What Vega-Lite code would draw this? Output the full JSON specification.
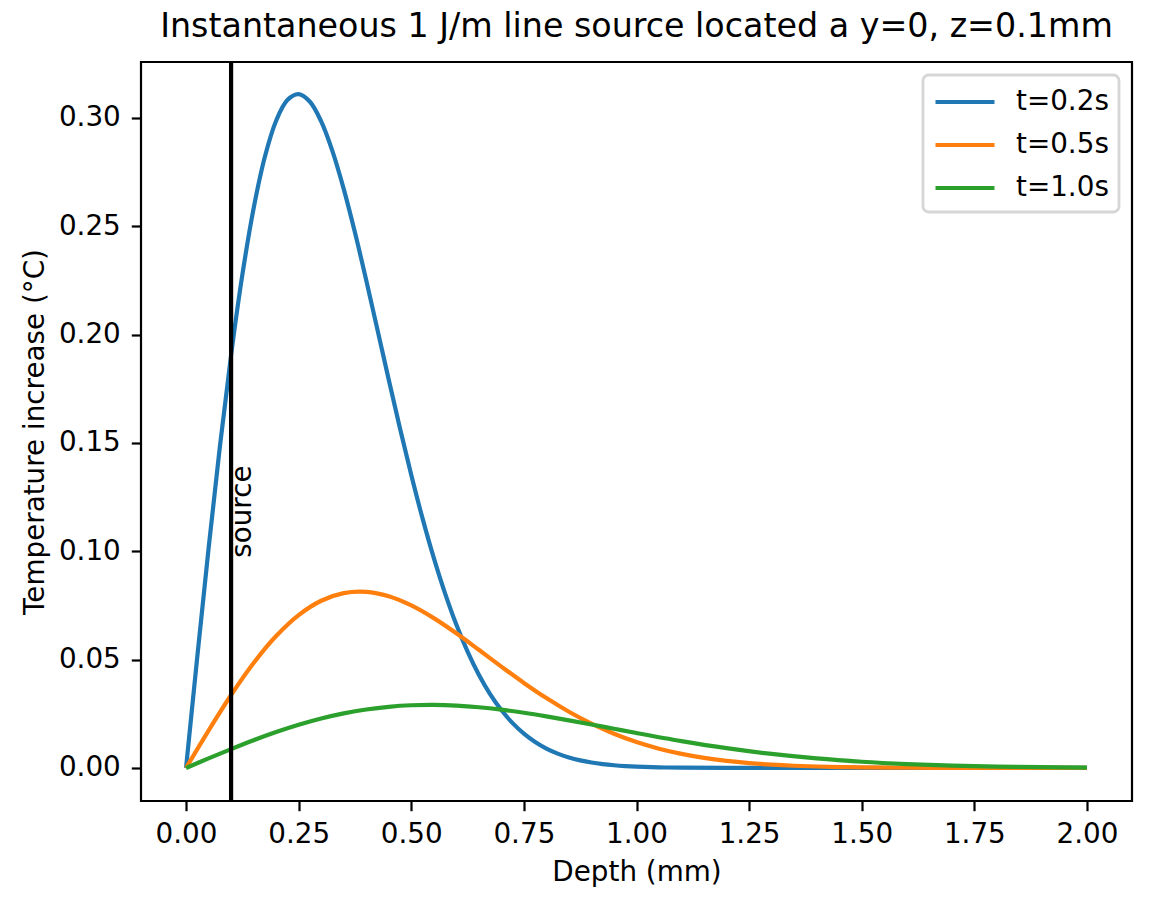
{
  "$schema": "https://vega.github.io/schema/vega-lite/v6.json",
  "width": 991,
  "height": 739,
  "autosize": {"type": "none"},
  "padding": {"left": 141, "top": 62, "right": 20, "bottom": 107},
  "background": "white",
  "config": {
    "font": "DejaVu Sans",
    "view": {"stroke": "black", "strokeWidth": 2.2},
    "legend": {"strokeWidth": 2.8},
    "axis": {
      "domain": false,
      "grid": false,
      "tickColor": "black",
      "tickWidth": 2.2,
      "tickSize": 9.7,
      "labelFont": "DejaVu Sans",
      "labelFontSize": 27.8,
      "labelColor": "black",
      "titleFont": "DejaVu Sans",
      "titleFontSize": 27.8,
      "titleFontWeight": "normal",
      "titleColor": "black"
    }
  },
  "title": {
    "text": "Instantaneous 1 J/m line source located a y=0, z=0.1mm",
    "fontSize": 33.3,
    "fontWeight": "normal",
    "font": "DejaVu Sans",
    "color": "black",
    "anchor": "middle",
    "offset": 16
  },
  "layer": [
    {
      "data": {
        "values": [
          {"s": "t=0.2s", "z": 0, "T": 0},
          {"s": "t=0.2s", "z": 0.025, "T": 0.05142},
          {"s": "t=0.2s", "z": 0.05, "T": 0.10129},
          {"s": "t=0.2s", "z": 0.075, "T": 0.14812},
          {"s": "t=0.2s", "z": 0.1, "T": 0.1906},
          {"s": "t=0.2s", "z": 0.125, "T": 0.2276},
          {"s": "t=0.2s", "z": 0.15, "T": 0.25828},
          {"s": "t=0.2s", "z": 0.175, "T": 0.28207},
          {"s": "t=0.2s", "z": 0.2, "T": 0.29871},
          {"s": "t=0.2s", "z": 0.225, "T": 0.30824},
          {"s": "t=0.2s", "z": 0.25, "T": 0.31097},
          {"s": "t=0.2s", "z": 0.275, "T": 0.30744},
          {"s": "t=0.2s", "z": 0.3, "T": 0.29838},
          {"s": "t=0.2s", "z": 0.325, "T": 0.28467},
          {"s": "t=0.2s", "z": 0.35, "T": 0.26723},
          {"s": "t=0.2s", "z": 0.375, "T": 0.24706},
          {"s": "t=0.2s", "z": 0.4, "T": 0.22508},
          {"s": "t=0.2s", "z": 0.425, "T": 0.20218},
          {"s": "t=0.2s", "z": 0.45, "T": 0.17915},
          {"s": "t=0.2s", "z": 0.475, "T": 0.15664},
          {"s": "t=0.2s", "z": 0.5, "T": 0.13518},
          {"s": "t=0.2s", "z": 0.525, "T": 0.11519},
          {"s": "t=0.2s", "z": 0.55, "T": 0.09693},
          {"s": "t=0.2s", "z": 0.575, "T": 0.08057},
          {"s": "t=0.2s", "z": 0.6, "T": 0.06616},
          {"s": "t=0.2s", "z": 0.625, "T": 0.05368},
          {"s": "t=0.2s", "z": 0.65, "T": 0.04304},
          {"s": "t=0.2s", "z": 0.675, "T": 0.03411},
          {"s": "t=0.2s", "z": 0.7, "T": 0.02671},
          {"s": "t=0.2s", "z": 0.725, "T": 0.02068},
          {"s": "t=0.2s", "z": 0.75, "T": 0.01583},
          {"s": "t=0.2s", "z": 0.775, "T": 0.01198},
          {"s": "t=0.2s", "z": 0.8, "T": 0.00896},
          {"s": "t=0.2s", "z": 0.825, "T": 0.00663},
          {"s": "t=0.2s", "z": 0.85, "T": 0.00485},
          {"s": "t=0.2s", "z": 0.875, "T": 0.00351},
          {"s": "t=0.2s", "z": 0.9, "T": 0.00251},
          {"s": "t=0.2s", "z": 0.925, "T": 0.00177},
          {"s": "t=0.2s", "z": 0.95, "T": 0.00124},
          {"s": "t=0.2s", "z": 0.975, "T": 0.00086},
          {"s": "t=0.2s", "z": 1.0, "T": 0.00059},
          {"s": "t=0.2s", "z": 1.05, "T": 0.00027},
          {"s": "t=0.2s", "z": 1.1, "T": 0.00012},
          {"s": "t=0.2s", "z": 1.2, "T": 0.00002},
          {"s": "t=0.2s", "z": 1.4, "T": 0},
          {"s": "t=0.2s", "z": 1.6, "T": 0},
          {"s": "t=0.2s", "z": 1.8, "T": 0},
          {"s": "t=0.2s", "z": 2.0, "T": 0},
          {"s": "t=0.5s", "z": 0, "T": 0},
          {"s": "t=0.5s", "z": 0.05, "T": 0.01727},
          {"s": "t=0.5s", "z": 0.1, "T": 0.03368},
          {"s": "t=0.5s", "z": 0.15, "T": 0.04844},
          {"s": "t=0.5s", "z": 0.2, "T": 0.06088},
          {"s": "t=0.5s", "z": 0.25, "T": 0.07055},
          {"s": "t=0.5s", "z": 0.3, "T": 0.07717},
          {"s": "t=0.5s", "z": 0.35, "T": 0.08069},
          {"s": "t=0.5s", "z": 0.4, "T": 0.08127},
          {"s": "t=0.5s", "z": 0.45, "T": 0.07923},
          {"s": "t=0.5s", "z": 0.5, "T": 0.07501},
          {"s": "t=0.5s", "z": 0.55, "T": 0.06914},
          {"s": "t=0.5s", "z": 0.6, "T": 0.06214},
          {"s": "t=0.5s", "z": 0.65, "T": 0.05453},
          {"s": "t=0.5s", "z": 0.7, "T": 0.04678},
          {"s": "t=0.5s", "z": 0.75, "T": 0.03925},
          {"s": "t=0.5s", "z": 0.8, "T": 0.03224},
          {"s": "t=0.5s", "z": 0.85, "T": 0.02594},
          {"s": "t=0.5s", "z": 0.9, "T": 0.02045},
          {"s": "t=0.5s", "z": 0.95, "T": 0.01581},
          {"s": "t=0.5s", "z": 1.0, "T": 0.01198},
          {"s": "t=0.5s", "z": 1.05, "T": 0.0089},
          {"s": "t=0.5s", "z": 1.1, "T": 0.00649},
          {"s": "t=0.5s", "z": 1.15, "T": 0.00464},
          {"s": "t=0.5s", "z": 1.2, "T": 0.00326},
          {"s": "t=0.5s", "z": 1.25, "T": 0.00225},
          {"s": "t=0.5s", "z": 1.3, "T": 0.00152},
          {"s": "t=0.5s", "z": 1.35, "T": 0.00101},
          {"s": "t=0.5s", "z": 1.4, "T": 0.00066},
          {"s": "t=0.5s", "z": 1.45, "T": 0.00042},
          {"s": "t=0.5s", "z": 1.5, "T": 0.00027},
          {"s": "t=0.5s", "z": 1.6, "T": 0.0001},
          {"s": "t=0.5s", "z": 1.7, "T": 0.00004},
          {"s": "t=0.5s", "z": 1.8, "T": 0.00001},
          {"s": "t=0.5s", "z": 1.9, "T": 0},
          {"s": "t=0.5s", "z": 2.0, "T": 0},
          {"s": "t=1.0s", "z": 0, "T": 0},
          {"s": "t=1.0s", "z": 0.05, "T": 0.00441},
          {"s": "t=1.0s", "z": 0.1, "T": 0.00871},
          {"s": "t=1.0s", "z": 0.15, "T": 0.01279},
          {"s": "t=1.0s", "z": 0.2, "T": 0.01655},
          {"s": "t=1.0s", "z": 0.25, "T": 0.01991},
          {"s": "t=1.0s", "z": 0.3, "T": 0.0228},
          {"s": "t=1.0s", "z": 0.35, "T": 0.02517},
          {"s": "t=1.0s", "z": 0.4, "T": 0.02698},
          {"s": "t=1.0s", "z": 0.45, "T": 0.02823},
          {"s": "t=1.0s", "z": 0.5, "T": 0.02893},
          {"s": "t=1.0s", "z": 0.55, "T": 0.0291},
          {"s": "t=1.0s", "z": 0.6, "T": 0.02878},
          {"s": "t=1.0s", "z": 0.65, "T": 0.02803},
          {"s": "t=1.0s", "z": 0.7, "T": 0.02691},
          {"s": "t=1.0s", "z": 0.75, "T": 0.02548},
          {"s": "t=1.0s", "z": 0.8, "T": 0.02381},
          {"s": "t=1.0s", "z": 0.85, "T": 0.02198},
          {"s": "t=1.0s", "z": 0.9, "T": 0.02005},
          {"s": "t=1.0s", "z": 0.95, "T": 0.01808},
          {"s": "t=1.0s", "z": 1.0, "T": 0.01611},
          {"s": "t=1.0s", "z": 1.1, "T": 0.01239},
          {"s": "t=1.0s", "z": 1.2, "T": 0.00913},
          {"s": "t=1.0s", "z": 1.3, "T": 0.00646},
          {"s": "t=1.0s", "z": 1.4, "T": 0.00439},
          {"s": "t=1.0s", "z": 1.5, "T": 0.00287},
          {"s": "t=1.0s", "z": 1.6, "T": 0.00181},
          {"s": "t=1.0s", "z": 1.7, "T": 0.00109},
          {"s": "t=1.0s", "z": 1.8, "T": 0.00064},
          {"s": "t=1.0s", "z": 1.9, "T": 0.00036},
          {"s": "t=1.0s", "z": 2.0, "T": 0.00019}
        ]
      },
      "mark": {"type": "line", "strokeWidth": 4.2, "strokeJoin": "round", "strokeCap": "butt", "interpolate": "catmull-rom"},
      "encoding": {
        "x": {
          "field": "z",
          "type": "quantitative",
          "scale": {"domain": [-0.1, 2.1], "nice": false, "zero": false},
          "axis": {
            "title": "Depth (mm)",
            "values": [0, 0.25, 0.5, 0.75, 1.0, 1.25, 1.5, 1.75, 2.0],
            "format": ".2f",
            "labelPadding": 10,
            "titlePadding": 10
          }
        },
        "y": {
          "field": "T",
          "type": "quantitative",
          "scale": {"domain": [-0.01525, 0.3258], "nice": false, "zero": false},
          "axis": {
            "title": "Temperature increase (°C)",
            "values": [0, 0.05, 0.1, 0.15, 0.2, 0.25, 0.3],
            "format": ".2f",
            "labelPadding": 11,
            "titlePadding": 9
          }
        },
        "color": {
          "field": "s",
          "type": "nominal",
          "scale": {"domain": ["t=0.2s", "t=0.5s", "t=1.0s"], "range": ["#1f77b4", "#ff7f0e", "#2ca02c"]},
          "legend": {
            "title": null,
            "orient": "top-right",
            "offset": 13,
            "symbolType": "M-2,0H2",
            "symbolSize": 870,
            "symbolStrokeWidth": 4.2,
            "symbolOffset": 15,
            "labelOffset": 34,
            "labelFont": "DejaVu Sans",
            "labelFontSize": 27.8,
            "labelColor": "black",
            "fillColor": "white",
            "strokeColor": "#d6d6d6",
            "cornerRadius": 5.6,
            "padding": 10,
            "rowPadding": 12
          }
        }
      }
    },
    {
      "data": {"values": [{"z": 0.1}]},
      "mark": {"type": "rule", "color": "black", "strokeWidth": 4.2},
      "encoding": {"x": {"field": "z", "type": "quantitative"}}
    },
    {
      "data": {"values": [{"z": 0.127, "T": 0.097, "label": "source"}]},
      "mark": {"type": "text", "angle": 270, "align": "left", "baseline": "middle", "fontSize": 27.8, "font": "DejaVu Sans", "color": "black"},
      "encoding": {
        "x": {"field": "z", "type": "quantitative"},
        "y": {"field": "T", "type": "quantitative"},
        "text": {"field": "label"}
      }
    }
  ]
}
